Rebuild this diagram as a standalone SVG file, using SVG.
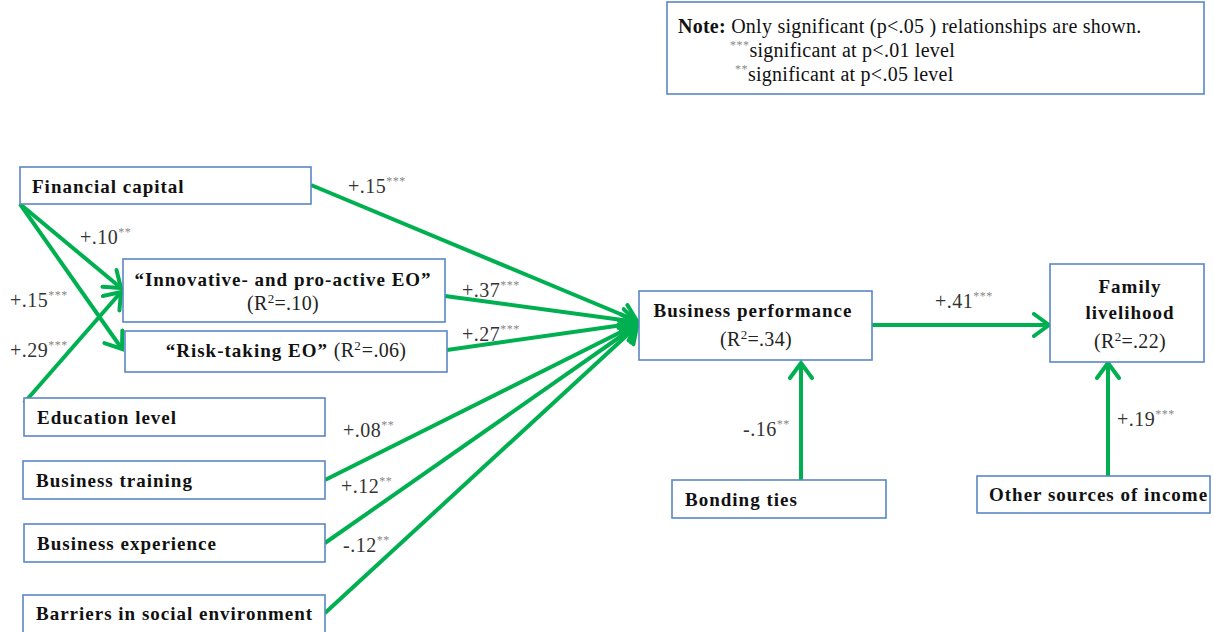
<svg xmlns="http://www.w3.org/2000/svg" width="1214" height="632" viewBox="0 0 1214 632">
<style>
.box{fill:#fff;stroke:#5B86C5;stroke-width:1.6}
.nt{font-family:"Liberation Serif",serif;font-weight:bold;font-size:19px;letter-spacing:1px;fill:#111}
.nr{font-family:"Liberation Serif",serif;font-size:20px;letter-spacing:0.3px;fill:#222}
.note{font-family:"Liberation Serif",serif;font-size:20px;letter-spacing:0.25px;fill:#111}
.lb{font-family:"Liberation Serif",serif;font-size:20px;letter-spacing:0.5px;fill:#333}
.st{font-size:12px;letter-spacing:0.5px;fill:#888}
.sup{font-size:13px}
.cn{stroke:#00B050;stroke-width:4;fill:none}
</style>
<defs>
<marker id="ah" viewBox="0 0 20 26" refX="17" refY="13" markerWidth="20" markerHeight="26" markerUnits="userSpaceOnUse" orient="auto">
<path d="M2,2 L17,13 L2,24" fill="none" stroke="#00B050" stroke-width="4" stroke-linecap="round" stroke-linejoin="miter"/>
</marker>
</defs>
<g id="note">
<rect class="box" x="667" y="2" width="537" height="92"/>
<text class="note" x="678" y="33"><tspan font-weight="bold">Note:</tspan> Only significant (p&lt;.05 ) relationships are shown.</text>
<text class="note" x="730" y="57"><tspan class="st" dy="-8">***</tspan><tspan dy="8">significant at p&lt;.01 level</tspan></text>
<text class="note" x="735" y="81"><tspan class="st" dy="-8">**</tspan><tspan dy="8">significant at p&lt;.05 level</tspan></text>
</g>
<g id="connectors">
<line class="cn" x1="311" y1="185" x2="637" y2="321" marker-end="url(#ah)"/>
<line class="cn" x1="445" y1="296" x2="637" y2="322" marker-end="url(#ah)"/>
<line class="cn" x1="447" y1="350" x2="637" y2="323" marker-end="url(#ah)"/>
<line class="cn" x1="325" y1="480" x2="637" y2="324" marker-end="url(#ah)"/>
<line class="cn" x1="325" y1="543" x2="637" y2="325" marker-end="url(#ah)"/>
<line class="cn" x1="325" y1="613" x2="637" y2="326" marker-end="url(#ah)"/>
<line class="cn" x1="20" y1="204" x2="121" y2="288" marker-end="url(#ah)"/>
<line class="cn" x1="20" y1="204" x2="122" y2="349" marker-end="url(#ah)"/>
<line class="cn" x1="24" y1="403" x2="121" y2="292" marker-end="url(#ah)"/>
<line class="cn" x1="872" y1="325" x2="1049" y2="325" marker-end="url(#ah)"/>
<line class="cn" x1="801" y1="480" x2="801" y2="363" marker-end="url(#ah)"/>
<line class="cn" x1="1108" y1="476" x2="1108" y2="363" marker-end="url(#ah)"/>
</g>
<g id="labels">
<text class="lb" x="348" y="193">+.15<tspan class="st" dy="-8">***</tspan></text>
<text class="lb" x="80" y="244">+.10<tspan class="st" dy="-8">**</tspan></text>
<text class="lb" x="10" y="307">+.15<tspan class="st" dy="-8">***</tspan></text>
<text class="lb" x="10" y="357">+.29<tspan class="st" dy="-8">***</tspan></text>
<text class="lb" x="462" y="297">+.37<tspan class="st" dy="-8">***</tspan></text>
<text class="lb" x="462" y="341">+.27<tspan class="st" dy="-8">***</tspan></text>
<text class="lb" x="343" y="437">+.08<tspan class="st" dy="-8">**</tspan></text>
<text class="lb" x="341" y="493">+.12<tspan class="st" dy="-8">**</tspan></text>
<text class="lb" x="343" y="552">-.12<tspan class="st" dy="-8">**</tspan></text>
<text class="lb" x="935" y="308">+.41<tspan class="st" dy="-8">***</tspan></text>
<text class="lb" x="743" y="436">-.16<tspan class="st" dy="-8">**</tspan></text>
<text class="lb" x="1117" y="426">+.19<tspan class="st" dy="-8">***</tspan></text>
</g>
<g id="financial-capital">
<rect class="box" x="20" y="167" width="291" height="37"/>
<text class="nt" x="32" y="193">Financial capital</text>
</g>
<g id="innovative-eo">
<rect class="box" x="123" y="259" width="322" height="63"/>
<text class="nt" x="283" y="286" text-anchor="middle">“Innovative- and pro-active EO”</text>
<text class="nr" x="283" y="310" text-anchor="middle">(R<tspan class="sup" dy="-7">2</tspan><tspan dy="7">=.10)</tspan></text>
</g>
<g id="risk-taking-eo">
<rect class="box" x="125" y="331" width="322" height="41"/>
<text class="nt" x="286" y="357" text-anchor="middle">“Risk-taking EO” <tspan font-weight="normal" font-size="20" letter-spacing="0.3" fill="#222">(R</tspan><tspan class="sup" font-weight="normal" fill="#222" dy="-7">2</tspan><tspan font-weight="normal" font-size="20" letter-spacing="0.3" fill="#222" dy="7">=.06)</tspan></text>
</g>
<g id="education-level">
<rect class="box" x="24" y="398" width="301" height="38"/>
<text class="nt" x="37" y="424">Education level</text>
</g>
<g id="business-training">
<rect class="box" x="23" y="461" width="302" height="38"/>
<text class="nt" x="36" y="487">Business training</text>
</g>
<g id="business-experience">
<rect class="box" x="24" y="524" width="301" height="38"/>
<text class="nt" x="37" y="550">Business experience</text>
</g>
<g id="barriers">
<rect class="box" x="23" y="595" width="302" height="38"/>
<text class="nt" x="36" y="620">Barriers in social environment</text>
</g>
<g id="business-performance">
<rect class="box" x="639" y="291" width="233" height="69"/>
<text class="nt" x="753" y="317" text-anchor="middle">Business performance</text>
<text class="nr" x="756" y="346" text-anchor="middle">(R<tspan class="sup" dy="-7">2</tspan><tspan dy="7">=.34)</tspan></text>
</g>
<g id="family-livelihood">
<rect class="box" x="1050" y="264" width="154" height="98"/>
<text class="nt" x="1130" y="293" text-anchor="middle">Family</text>
<text class="nt" x="1130" y="319" text-anchor="middle">livelihood</text>
<text class="nr" x="1130" y="348" text-anchor="middle">(R<tspan class="sup" dy="-7">2</tspan><tspan dy="7">=.22)</tspan></text>
</g>
<g id="bonding-ties">
<rect class="box" x="672" y="480" width="214" height="38"/>
<text class="nt" x="685" y="506">Bonding ties</text>
</g>
<g id="other-sources">
<rect class="box" x="977" y="476" width="233" height="37"/>
<text class="nt" x="989" y="501">Other sources of income</text>
</g>
</svg>
